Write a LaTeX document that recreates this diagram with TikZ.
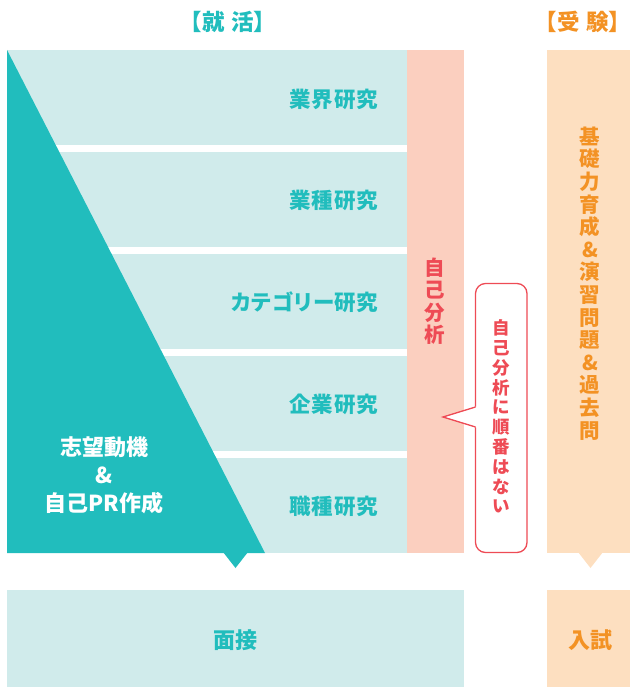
\documentclass[tikz,border=0pt]{standalone}
\usepackage{fontspec}
\setmainfont{Noto Sans CJK JP}
\definecolor{teal1}{RGB}{33,189,189}
\definecolor{lteal}{RGB}{208,235,235}
\definecolor{pinkc}{RGB}{251,207,191}
\definecolor{redc}{RGB}{238,75,85}
\definecolor{lorange}{RGB}{253,223,192}
\definecolor{orangec}{RGB}{243,146,36}
\newcommand{\lbr}{\makebox[0.5em][r]{\hspace*{-0.5em}【}}
\newcommand{\rbr}{\makebox[0.5em][l]{】\hspace*{-0.5em}}}
\tikzset{
  rowlbl/.style={anchor=east,text=teal1,font=\bfseries\fontsize{21.5}{24}\selectfont\addfontfeature{LetterSpace=3},inner sep=0pt},
  vt/.style={align=center,inner sep=0pt},
  hdr/.style={inner sep=0pt,font=\bfseries\fontsize{22.5}{26}\selectfont},
}
\begin{document}
\begin{tikzpicture}[x=1pt,y=-1pt]
\useasboundingbox (0,0) rectangle (630,687);
% rows
\fill[lteal] (7,50) rectangle (407,145);
\fill[lteal] (7,152) rectangle (407,247);
\fill[lteal] (7,254) rectangle (407,349);
\fill[lteal] (7,356) rectangle (407,451);
\fill[lteal] (7,458) rectangle (407,553);
% pink column
\fill[pinkc] (407,50) rectangle (464,553);
% big triangle
\fill[teal1] (7,50) -- (265,553) -- (7,553) -- cycle;
\fill[teal1] (223,552) -- (248,552) -- (235.5,568) -- cycle;
% bottom boxes
\fill[lteal] (7,590) rectangle (464,687);
\fill[lorange] (547,50) rectangle (630,553);
\fill[lorange] (578,552) -- (603,552) -- (590.5,568) -- cycle;
\fill[lorange] (547,590) rectangle (630,687);
% callout
\draw[redc,line width=1.3pt,fill=white,rounded corners=10pt] (475.5,283.5) rectangle (527,552.5);
\fill[white] (443,417) -- (476.5,406.5) -- (478,406.5) -- (478,427.5) -- (476.5,427.5) -- cycle;
\draw[redc,line width=1.3pt,line join=miter] (475.5,407) -- (443,417) -- (475.5,427);
% headers
\node[hdr,text=teal1] (h1) at (228,22) {\lbr 就\hspace{0.3em}活\rbr};
\node[hdr,text=orangec] (h2) at (583,22) {\lbr 受\hspace{0.3em}験\rbr};
% row labels
\node[rowlbl] (r1) at (378,99) {業界研究};
\node[rowlbl] (r2) at (378,200) {業種研究};
\node[rowlbl] (r3) at (378,302) {{\addfontfeature{RawFeature=+palt}カテゴリー}研究};
\node[rowlbl] (r4) at (378,404) {企業研究};
\node[rowlbl] (r5) at (378,506) {職種研究};
% left text
\node[vt,text=white,font=\bfseries\fontsize{22}{28}\selectfont] (lt) at (104,475) {志望動機\\\&\\自己PR作成};
% pink vertical
\node[vt,text=redc,font=\bfseries\fontsize{20.5}{22.5}\selectfont] (ja) at (435,301) {自\\己\\分\\析};
% callout text
\node[vt,text=redc,font=\bfseries\fontsize{17.5}{19.8}\selectfont] (co) at (501,416.5) {自\\己\\分\\析\\に\\順\\番\\は\\な\\い};
% orange vertical
\node[vt,text=orangec,font=\bfseries\fontsize{20.5}{22.6}\selectfont] (ov) at (590,283.5) {基\\礎\\力\\育\\成\\\&\\演\\習\\問\\題\\\&\\過\\去\\問};
% bottom labels
\node[text=teal1,font=\bfseries\fontsize{22}{24}\selectfont] (m1) at (235.5,640) {面接};
\node[text=orangec,font=\bfseries\fontsize{22}{24}\selectfont] (m2) at (590.5,640) {入試};
\end{tikzpicture}
\end{document}
